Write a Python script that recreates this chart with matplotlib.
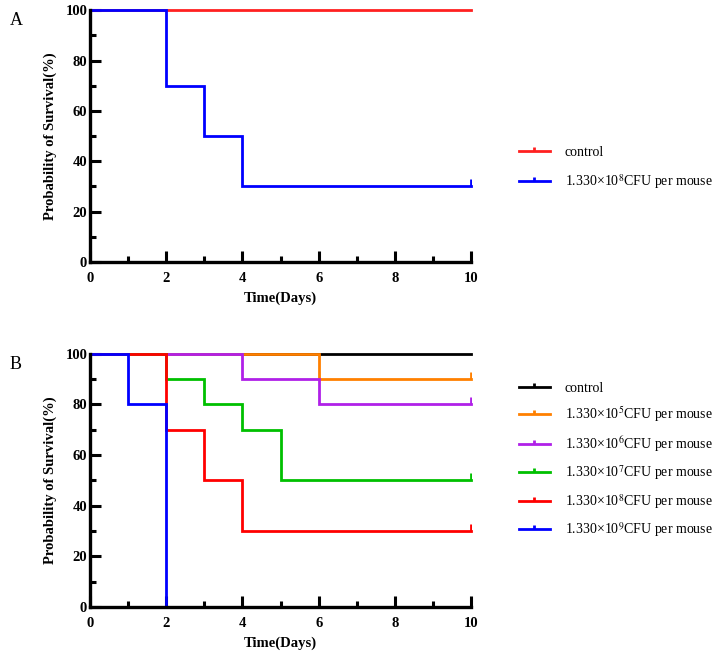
import numpy as np
import matplotlib.pyplot as plt
from matplotlib.path import Path
from matplotlib.lines import Line2D
from matplotlib.ticker import MultipleLocator

plt.rcParams['font.family'] = ['Liberation Serif', 'DejaVu Serif']
plt.rcParams['mathtext.fontset'] = 'stix'

# panel A
a_labels = ['control', '1.330×10$^{8}$CFU per mouse']
a_colors = ['#ff2020', '#0000ff']
a_times = [[0, 10], [0, 2, 3, 4, 10]]
a_surv = [[100, 100], [100, 70, 50, 30, 30]]

# panel B
b_labels = ['control',
            '1.330×10$^{5}$CFU per mouse',
            '1.330×10$^{6}$CFU per mouse',
            '1.330×10$^{7}$CFU per mouse',
            '1.330×10$^{8}$CFU per mouse',
            '1.330×10$^{9}$CFU per mouse']
b_colors = ['#000000', '#ff8000', '#b020e8', '#00c000', '#ff0000', '#0000ff']
b_times = [[0, 10],
           [0, 6, 10],
           [0, 4, 6, 10],
           [0, 2, 3, 4, 5, 10],
           [0, 2, 3, 4, 10],
           [0, 1, 2]]
b_surv = [[100, 100],
          [100, 90, 90],
          [100, 90, 80, 80],
          [100, 90, 80, 70, 50, 50],
          [100, 70, 50, 30, 30],
          [100, 80, 0]]

tick_up = Path([(0, 0), (0, 1)], [Path.MOVETO, Path.LINETO])


def draw_panel(ax, times, surv, colors, labels, letter, leg_y, spacing):
    for t, s, c in zip(times, surv, colors):
        ax.step(t, s, where='post', color=c, lw=2.0, clip_on=False,
                solid_joinstyle='miter')
        if s[-1] > 0:
            # censor mark at the end of follow-up
            ax.plot([t[-1]], [s[-1]], marker=tick_up, markersize=10,
                    color=c, mew=2.0, ls='none')
    ax.set_xlim(0, 10)
    ax.set_ylim(0, 100)
    ax.xaxis.set_major_locator(MultipleLocator(2))
    ax.xaxis.set_minor_locator(MultipleLocator(1))
    ax.yaxis.set_major_locator(MultipleLocator(20))
    ax.yaxis.set_minor_locator(MultipleLocator(10))
    for side in ['top', 'right']:
        ax.spines[side].set_visible(False)
    for side in ['left', 'bottom']:
        ax.spines[side].set_linewidth(2.4)
    ax.tick_params(which='major', direction='in', length=8, width=2.2,
                   labelsize=10.5, pad=2)
    ax.tick_params(axis='x', which='major', pad=7)
    ax.tick_params(which='minor', direction='in', length=4.5, width=2.2)
    for lab in ax.get_xticklabels() + ax.get_yticklabels():
        lab.set_fontweight('bold')
    ax.set_xlabel('Time(Days)', fontsize=10.5, fontweight='bold', labelpad=5)
    ax.set_ylabel('Probability of Survival(%)', fontsize=10.5,
                  fontweight='bold', labelpad=6)
    handles = [Line2D([], [], color=c, lw=2.0, marker=tick_up,
                      markersize=6, mew=2.0) for c in colors]
    ax.legend(handles, labels, loc='center left',
              bbox_to_anchor=(1.126, leg_y), frameon=False, fontsize=10,
              handlelength=2.2, handletextpad=1.1, labelspacing=spacing,
              borderpad=0, borderaxespad=0)
    ax.text(-0.21, 0.96, letter, transform=ax.transAxes, fontsize=13,
            va='center')


fig = plt.figure(figsize=(7.15, 6.54), dpi=100)
ax_a = fig.add_axes([0.1259, 0.5994, 0.533, 0.385])
ax_b = fig.add_axes([0.1259, 0.0719, 0.533, 0.387])

draw_panel(ax_a, a_times, a_surv, a_colors, a_labels, 'A', 0.37, 0.95)
draw_panel(ax_b, b_times, b_surv, b_colors, b_labels, 'B', 0.578, 0.7)

fig.savefig('out.png', dpi=100)
plt.close()
